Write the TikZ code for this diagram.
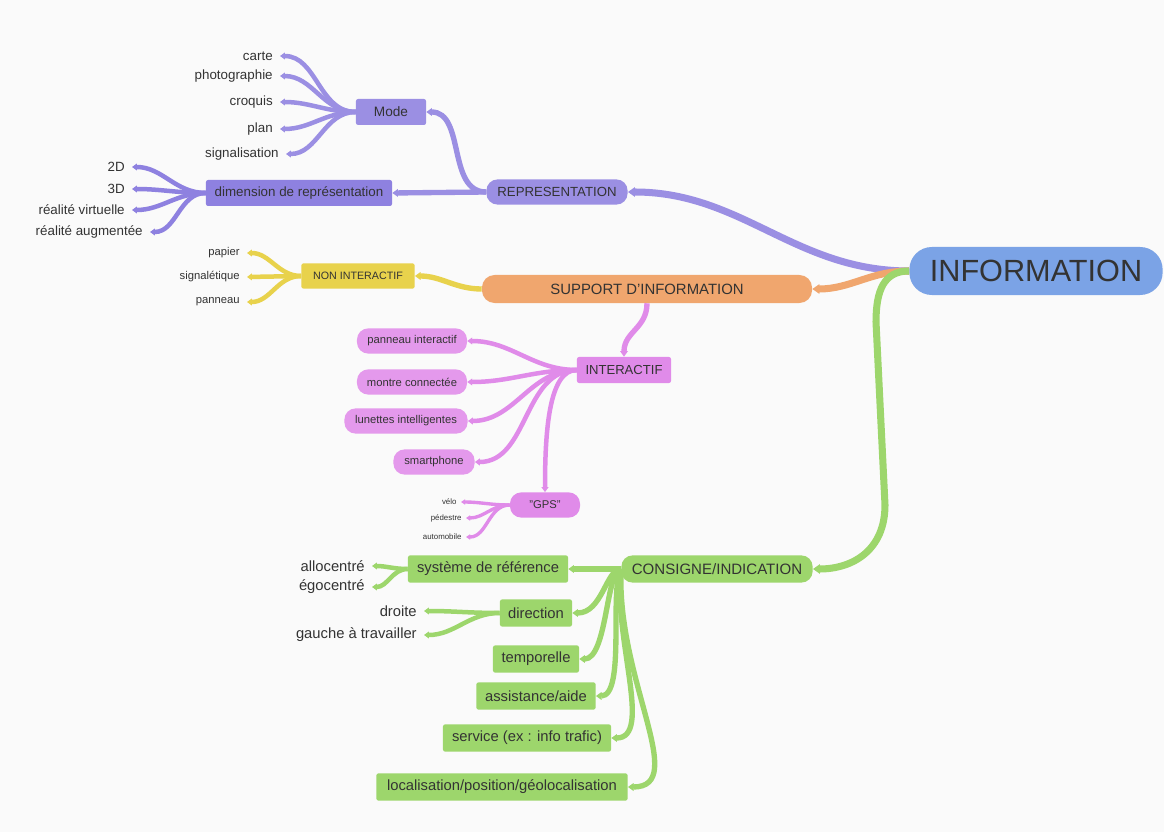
\documentclass[tikz,border=0pt]{standalone}
\usepackage{fontspec}
\setmainfont{Liberation Sans}
\usetikzlibrary{arrows.meta,calc}
\definecolor{InfoBlue}{HTML}{7BA3E6}
\definecolor{ReprPurple}{HTML}{9B8FE3}
\definecolor{DimPurple}{HTML}{8E81E0}
\definecolor{SupportOrange}{HTML}{F0A66E}
\definecolor{NonYellow}{HTML}{E8D24C}
\definecolor{InterPink}{HTML}{E08BE9}
\definecolor{ConsGreen}{HTML}{9DD66C}
\definecolor{Ink}{HTML}{333333}
\definecolor{Paper}{HTML}{FAFAFA}

\begin{document}
\begin{tikzpicture}[x=0.025cm, y=-0.025cm,
  box/.style={text=Ink, inner sep=0pt, align=center},
  pill/.style={box, rounded corners=8pt},
  rect/.style={box, rounded corners=1.5pt},
  leaf/.style={text=Ink, anchor=east, inner xsep=5pt, inner ysep=1pt},
  mainline/.style={line width=5pt, -{Triangle[length=5pt,width=6.6pt]}},
  midline/.style={line width=3.8pt, -{Triangle[length=4pt,width=5.4pt]}},
  leafline/.style={line width=3.2pt, -{Triangle[length=3.5pt,width=4.8pt]}},
  thinline/.style={line width=2.4pt, -{Triangle[length=3pt,width=3.8pt]}}]
  \useasboundingbox (0,0) rectangle (1164,832);
  \fill[Paper] (0,0) rectangle (1164,832);

  % Root of the map.
  \node[box, fill=InfoBlue, rounded corners=16pt, minimum width=6.33cm, minimum height=1.2cm,
    font=\fontsize{21.8}{24}\selectfont] (information) at (1036,271) {INFORMATION};

  % Representation branch.
  \node[pill, fill=ReprPurple, minimum width=3.53cm, minimum height=0.63cm,
    font=\fontsize{9.4}{11}\selectfont] (representation) at (557,192) {REPRESENTATION};
  \node[rect, fill=ReprPurple, minimum width=1.75cm, minimum height=0.65cm,
    font=\fontsize{9.7}{11}\selectfont] (mode) at (391,112) {Mode};
  \node[rect, fill=DimPurple, minimum width=4.65cm, minimum height=0.65cm,
    font=\fontsize{9.5}{11}\selectfont] (dimension) at (299,193) {dimension de représentation};
  \begin{scope}[every node/.style={leaf, font=\fontsize{9.5}{11}\selectfont}]
    \node (carte) at (280,56) {carte};
    \node (photo) at (280,76) {photographie};
    \node (croquis) at (280,102) {croquis};
    \node (plan) at (280,129) {plan};
    \node (signal) at (286,154) {signalisation};
    \node (dim2) at (132,167) {2D};
    \node (dim3) at (132,189) {3D};
    \node (virtuel) at (132,210) {réalité virtuelle};
    \node (augment) at (150,232) {réalité augmentée};
  \end{scope}

  % Support branch.
  \node[pill, fill=SupportOrange, rounded corners=9pt, minimum width=8.25cm, minimum height=0.7cm,
    font=\fontsize{10.6}{12}\selectfont] (support) at (647,289) {SUPPORT D'INFORMATION};
  \node[rect, fill=NonYellow, minimum width=2.83cm, minimum height=0.63cm,
    font=\fontsize{7.6}{9}\selectfont] (nonint) at (358,276) {NON INTERACTIF};
  \node[rect, fill=InterPink, minimum width=2.35cm, minimum height=0.65cm,
    font=\fontsize{9.3}{11}\selectfont] (interactif) at (624,370) {INTERACTIF};
  \begin{scope}[every node/.style={pill, fill=InterPink!88!white, minimum height=0.63cm,
      font=\fontsize{8}{10}\selectfont}]
    \node[minimum width=2.75cm] (panint) at (412,341) {panneau interactif};
    \node[minimum width=2.75cm] (montre) at (412,382) {montre connectée};
    \node[minimum width=3.08cm] (lunettes) at (406,421) {lunettes intelligentes};
    \node[minimum width=2.03cm] (smartphone) at (434,462) {smartphone};
    \node[minimum width=1.75cm, fill=InterPink] (gps) at (545,505) {"GPS"};
  \end{scope}
  \begin{scope}[every node/.style={leaf, font=\fontsize{8}{10}\selectfont}]
    \node (papier) at (247,253) {papier};
    \node (signaletique) at (247,277) {signalétique};
    \node (panneau) at (247,302) {panneau};
  \end{scope}
  \begin{scope}[every node/.style={leaf, inner xsep=3pt, font=\fontsize{5.6}{7}\selectfont}]
    \node (velo) at (461,502) {vélo};
    \node (pedestre) at (466,518) {pédestre};
    \node (auto) at (466,537) {automobile};
  \end{scope}

  % Consigne branch.
  \node[pill, fill=ConsGreen, minimum width=4.78cm, minimum height=0.68cm,
    font=\fontsize{10.7}{12}\selectfont] (consigne) at (717,569) {CONSIGNE/INDICATION};
  \begin{scope}[every node/.style={rect, fill=ConsGreen, minimum height=0.68cm,
      font=\fontsize{10.5}{12}\selectfont}]
    \node[minimum width=4.0cm] (systeme) at (488,569) {système de référence};
    \node[minimum width=1.8cm] (direction) at (536,613) {direction};
    \node[minimum width=2.15cm] (temporelle) at (536,659) {temporelle};
    \node[minimum width=2.98cm] (assistance) at (536,696) {assistance/aide};
    \node[minimum width=4.2cm] (service) at (527,738) {service (ex : info trafic)};
    \node[minimum width=6.28cm] (localisation) at (502,787) {localisation/position/géolocalisation};
  \end{scope}
  \begin{scope}[every node/.style={leaf, font=\fontsize{10.5}{12}\selectfont}]
    \node (allocentre) at (372,566) {allocentré};
    \node (egocentre) at (372,587) {égocentré};
    \node (droite) at (424,611) {droite};
    \node (gauche) at (424,635) {gauche à travailler};
  \end{scope}

  % Main branches.
  \coordinate (gtop) at (876,322);
  \coordinate (gbot) at (885,505);
  \draw[mainline, ReprPurple] (information.west) to[out=180,in=0] (representation.east);
  \draw[mainline, SupportOrange] (information.west) to[out=180,in=0] (support.east);
  \draw[mainline, ConsGreen] (information.west) .. controls +(-25,0) and +(0,-32) .. (gtop)
    -- (gbot) .. controls +(0,45) and +(40,0) .. (consigne.east);

  % Second level.
  \draw[midline, ReprPurple] (representation.west) to[out=180,in=0] (mode.east);
  \draw[midline, ReprPurple] (representation.west) -- (dimension.east);
  \draw[midline, NonYellow] (support.west) to[out=180,in=0] (nonint.east);
  \draw[midline, InterPink] (support.south) .. controls +(0,25) and +(0,-25) .. (interactif.north);
  \draw[midline, ConsGreen] (consigne.west) -- (systeme.east);
  \draw[midline, ConsGreen] (consigne.west) .. controls +(-15,0) and +(30,0) .. (direction.east);
  \draw[midline, ConsGreen] (consigne.west) .. controls +(-15,0) and +(28,0) .. (temporelle.east);
  \draw[midline, ConsGreen] (consigne.west) .. controls +(-12,20) and +(30,0) .. (assistance.east);
  \draw[midline, ConsGreen] (consigne.west) .. controls +(-8,70) and +(42,0) .. (service.east);
  \draw[midline, ConsGreen] (consigne.west) .. controls +(-5,110) and +(62,0) .. (localisation.east);

  % Leaves.
  \draw[leafline, ReprPurple] (mode.west) to[out=180,in=0] (carte.east);
  \draw[leafline, ReprPurple] (mode.west) to[out=180,in=0] (photo.east);
  \draw[leafline, ReprPurple] (mode.west) to[out=180,in=0] (croquis.east);
  \draw[leafline, ReprPurple] (mode.west) to[out=180,in=0] (plan.east);
  \draw[leafline, ReprPurple] (mode.west) to[out=180,in=0] (signal.east);
  \draw[leafline, DimPurple] (dimension.west) to[out=180,in=0] (dim2.east);
  \draw[leafline, DimPurple] (dimension.west) to[out=180,in=0] (dim3.east);
  \draw[leafline, DimPurple] (dimension.west) to[out=180,in=0] (virtuel.east);
  \draw[leafline, DimPurple] (dimension.west) to[out=180,in=0] (augment.east);
  \draw[leafline, NonYellow] (nonint.west) to[out=180,in=0] (papier.east);
  \draw[leafline, NonYellow] (nonint.west) -- (signaletique.east);
  \draw[leafline, NonYellow] (nonint.west) to[out=180,in=0] (panneau.east);
  \draw[leafline, InterPink] (interactif.west) to[out=180,in=0] (panint.east);
  \draw[leafline, InterPink] (interactif.west) to[out=180,in=0] (montre.east);
  \draw[leafline, InterPink] (interactif.west) to[out=180,in=0] (lunettes.east);
  \draw[leafline, InterPink] (interactif.west) to[out=180,in=0] (smartphone.east);
  \draw[leafline, InterPink] (interactif.west) .. controls +(-28,0) and +(0,-60) .. (gps.north);
  \draw[thinline, InterPink] (gps.west) to[out=180,in=0] (velo.east);
  \draw[thinline, InterPink] (gps.west) to[out=180,in=0] (pedestre.east);
  \draw[thinline, InterPink] (gps.west) to[out=180,in=0] (auto.east);
  \draw[leafline, ConsGreen] (systeme.west) to[out=180,in=0] (allocentre.east);
  \draw[leafline, ConsGreen] (systeme.west) to[out=180,in=0] (egocentre.east);
  \draw[leafline, ConsGreen] (direction.west) to[out=180,in=0] (droite.east);
  \draw[leafline, ConsGreen] (direction.west) to[out=180,in=0] (gauche.east);
\end{tikzpicture}
\end{document}
